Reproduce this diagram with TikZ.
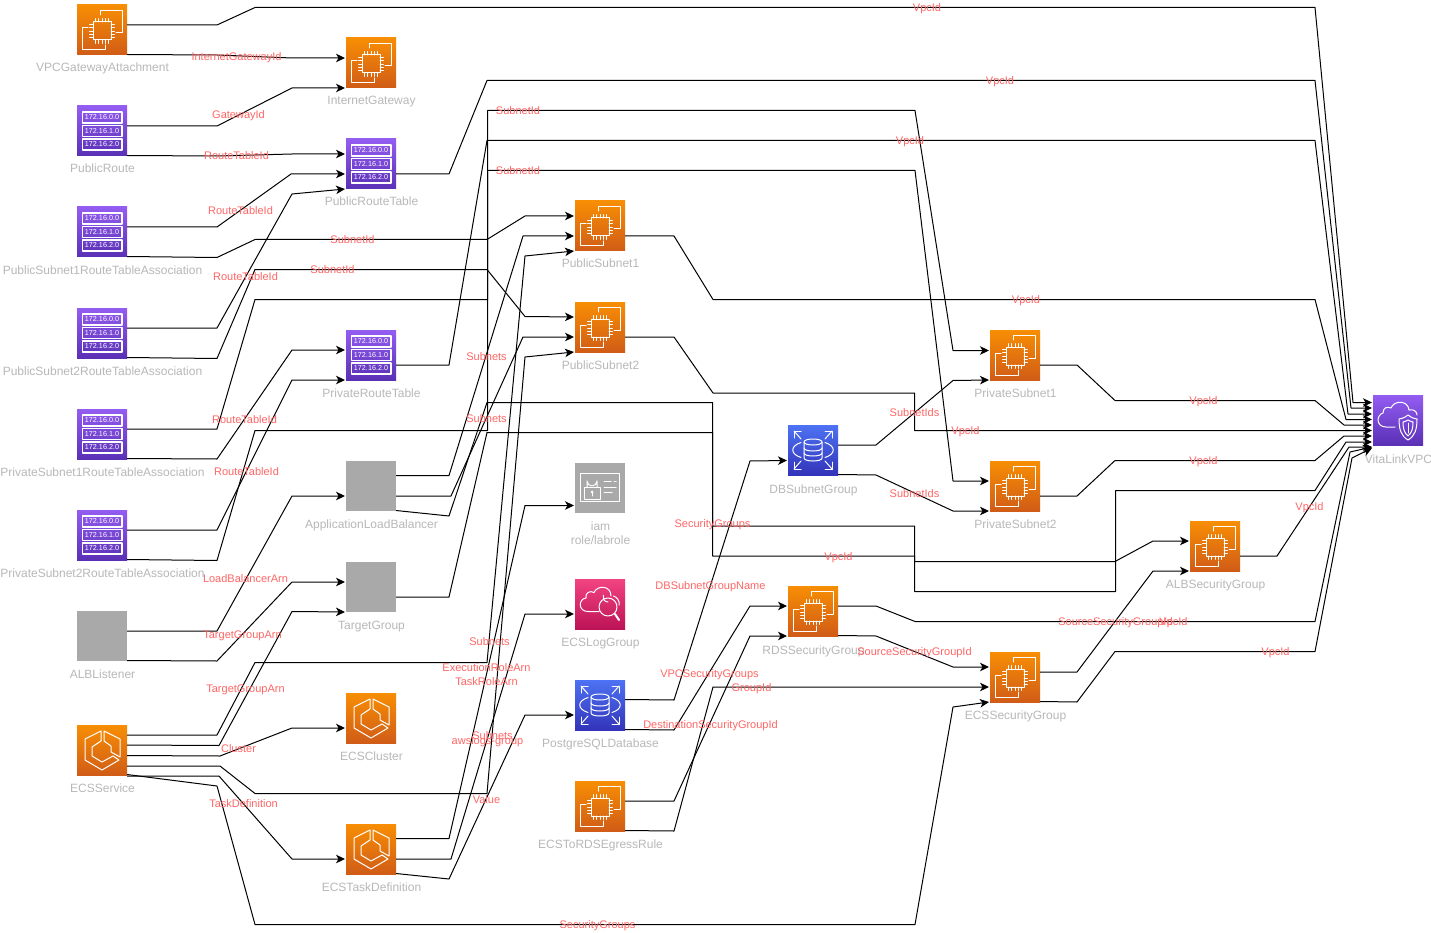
\documentclass[tikz,border=0pt]{standalone}
\usepackage{fontspec}
\setmainfont{Liberation Sans}
\usetikzlibrary{calc,arrows.meta}
\definecolor{lblgray}{HTML}{B8B8B8}
\definecolor{lblred}{HTML}{FF6666}
\definecolor{boxgray}{HTML}{A9A9A9}
\definecolor{F78}{HTML}{F78E04}\definecolor{D5C}{HTML}{D05C17}
\definecolor{P1}{HTML}{945DF2}\definecolor{P2}{HTML}{5A30B5}
\definecolor{B1}{HTML}{4D72F3}\definecolor{B2}{HTML}{3334B9}
\definecolor{K1}{HTML}{F34482}\definecolor{K2}{HTML}{BC1356}
\tikzset{
  box/.style={minimum size=50pt,inner sep=0pt,outer sep=0pt,anchor=north west,draw=none},
  orangebox/.style={box,top color=F78,bottom color=D5C},
  purplebox/.style={box,top color=P1,bottom color=P2},
  bluebox/.style={box,top color=B1,bottom color=B2},
  pinkbox/.style={box,top color=K1,bottom color=K2},
  graybox/.style={box,fill=boxgray},
  lbl/.style={text=lblgray,font=\fontsize{12pt}{14pt}\selectfont,inner sep=0pt,text height=9pt,text depth=3pt,yshift=-1pt,xshift=.5pt},
  lbltwo/.style={text=lblgray,font=\fontsize{12pt}{14pt}\selectfont,inner sep=0pt,align=center,xshift=.5pt},
  elab/.style={text=lblred,font=\fontsize{11pt}{13pt}\selectfont,inner sep=0pt,text height=8pt,text depth=2pt,yshift=-1.5pt},
  conline/.style={draw=black,line width=1pt,line join=round,-{Stealth[length=9pt,width=8.5pt,inset=2.5pt]}},
  ico/.style={draw=white,line width=1pt,line join=round,line cap=round,fill=none},
}
% icon glyphs, in a 50 x 50 frame
\newcommand{\gchip}{%
  \draw[ico] (23,10) -- (23,5.5) -- (45,5.5) -- (45,28) -- (39,28);
  \draw[ico] (11,23) -- (5.5,23) -- (5.5,45) -- (28,45) -- (28,40);
  \draw[ico] (16,17) rectangle (34,35);
  \foreach \t in {18.5,21.5,25,28.5,31.5}{
    \draw[ico,line width=.8pt] (\t,13.5) -- (\t,17);
    \draw[ico,line width=.8pt] (\t,35) -- (\t,38.5);
  }
  \foreach \t in {19.5,22.5,26,29.5,32.5}{
    \draw[ico,line width=.8pt] (12.5,\t) -- (16,\t);
    \draw[ico,line width=.8pt] (34,\t) -- (37.5,\t);
  }}
\newcommand{\gsubnet}[1]{%
  \foreach \yy/\tt in {6/0,19.5/1,33/2}{
    \draw[ico,line width=1.2pt] (5.5,\yy) rectangle (45,\yy+11);
    \node[text=white,font=\fontsize{7.2pt}{8pt}\selectfont,inner sep=0pt] (#1t\tt) at (25,\yy+5.5) {172.16.\tt.0};
  }}
\newcommand{\gecs}{%
  \draw[ico] (24,6) -- (24,16) -- (15,22) -- (15,31) -- (25,37) -- (36,31) -- (42,35) -- (25,45) -- (8,35) -- (8,14) -- cycle;
  \draw[ico] (27,6) -- (43,14) -- (43,32) -- (34,27) -- (34,21) -- (27,16) -- cycle;}
\newcommand{\grds}{%
  \draw[ico] (16,17) .. controls (16,13) and (34,13) .. (34,17) .. controls (34,21) and (16,21) .. (16,17);
  \draw[ico] (16,17) -- (16,33) .. controls (16,37) and (34,37) .. (34,33) -- (34,17);
  \draw[ico] (16,23) .. controls (16,27) and (34,27) .. (34,23);
  \draw[ico] (16,28) .. controls (16,32) and (34,32) .. (34,28);
  \draw[ico] (13,17.5) .. controls (2,21) and (2,29) .. (13,32.5);
  \draw[ico] (37,17.5) .. controls (48,21) and (48,29) .. (37,32.5);
  \draw[ico] (13,14) -- (6,6); \draw[ico] (6,13) -- (6,6) -- (13,6);
  \draw[ico] (37,14) -- (44,6); \draw[ico] (44,13) -- (44,6) -- (37,6);
  \draw[ico] (13,36) -- (6,44); \draw[ico] (6,37) -- (6,44) -- (13,44);
  \draw[ico] (37,36) -- (44,44); \draw[ico] (44,37) -- (44,44) -- (37,44);}
\newcommand{\glogs}{%
  \draw[ico] (24,32.5) -- (13,32.5) .. controls (3,32.5) and (3,20) .. (11,19) .. controls (10,14) and (15,11) .. (19,13.5) .. controls (22,6) and (36,6) .. (36,17);
  \draw[ico] (38.5,17) .. controls (42,18) and (45,22) .. (44,26);
  \draw[ico] (33,28) circle [radius=9];
  \draw[ico] (33,23) arc [start angle=90,end angle=200,radius=5];
  \draw[ico,line width=2pt] (40,35) -- (44,41);}
\newcommand{\gvpc}{%
  \draw[ico] (22,32) -- (13,32) .. controls (3,32) and (3,20) .. (10,18) .. controls (10,13) and (14,11) .. (18,13) .. controls (21,5) and (35,5) .. (36,15);
  \draw[ico] (36,15) .. controls (40,14) and (44,16) .. (44,20);
  \draw[ico] (35,20) .. controls (31,23) and (28,24) .. (26,24) .. controls (26,34) and (28,41) .. (35,45) .. controls (42,41) and (44,34) .. (44,24) .. controls (42,24) and (39,23) .. (35,20) -- cycle;
  \draw[ico] (35,25) .. controls (33,26) and (31,27) .. (30,27) .. controls (30,33) and (31,38) .. (35,41) .. controls (39,38) and (40,33) .. (40,27) .. controls (39,27) and (37,26) .. (35,25) -- cycle;
  \draw[ico] (35,28) -- (35,38);}
\newcommand{\giam}{%
  \draw[ico] (5.5,10.5) rectangle (44.5,38);
  \draw[ico] (9,24) rectangle (25,36);
  \draw[ico] (12,24) -- (12,18) arc [start angle=180,end angle=0,radius=5] -- (22,24);
  \fill[white] (17,29) circle [radius=1.5];
  \draw[ico] (17,30) -- (17,33);
  \draw[ico] (29,18.5) -- (36,18.5); \draw[ico] (39,18.5) -- (41,18.5);
  \draw[ico] (29,24) -- (41,24); \draw[ico] (29,29) -- (37,29);}
\newcommand{\icon}[5]{%
  \node[#4] (#1) at (#2,#3) {};
  \begin{scope}[shift={(#2,#3)}]#5\end{scope}}
\newcommand{\conn}[5]{%
  \draw[conline] ($(#1.north east)+(0,#2)$) #3 -- ($(#4.north west)+(-1,#5)$);}
\begin{document}
\begin{tikzpicture}[x=1pt,y=-1pt]
\useasboundingbox (0,0) rectangle (1431,933);
\fill[white] (0,0) rectangle (1431,933);
% ---- icons
\icon{vga}{77}{5}{orangebox}{\gchip}
\icon{proute}{77}{106}{purplebox}{\gsubnet{proute}}
\icon{ps1a}{77}{207}{purplebox}{\gsubnet{ps1a}}
\icon{ps2a}{77}{308}{purplebox}{\gsubnet{ps2a}}
\icon{pv1a}{77}{409}{purplebox}{\gsubnet{pv1a}}
\icon{pv2a}{77}{510}{purplebox}{\gsubnet{pv2a}}
\icon{albl}{77}{611}{graybox}{}
\icon{svc}{77}{725}{orangebox}{\gecs}
\icon{igw}{346}{38}{orangebox}{\gchip}
\icon{pubrt}{346}{139}{purplebox}{\gsubnet{pubrt}}
\icon{privrt}{346}{330}{purplebox}{\gsubnet{privrt}}
\icon{alb}{346}{461}{graybox}{}
\icon{tg}{346}{562}{graybox}{}
\icon{cluster}{346}{693}{orangebox}{\gecs}
\icon{taskdef}{346}{824}{orangebox}{\gecs}
\icon{pubs1}{575}{201}{orangebox}{\gchip}
\icon{pubs2}{575}{302}{orangebox}{\gchip}
\icon{iam}{575}{463}{graybox}{\giam}
\icon{logs}{575}{579}{pinkbox}{\glogs}
\icon{pg}{575}{680}{bluebox}{\grds}
\icon{egress}{575}{781}{orangebox}{\gchip}
\icon{dbsub}{788}{425}{bluebox}{\grds}
\icon{rdssg}{788}{586}{orangebox}{\gchip}
\icon{privs1}{990}{330}{orangebox}{\gchip}
\icon{privs2}{990}{461}{orangebox}{\gchip}
\icon{ecssg}{990}{652}{orangebox}{\gchip}
\icon{albsg}{1190}{521}{orangebox}{\gchip}
\icon{vpc}{1373}{395}{purplebox}{\gvpc}
% ---- icon captions
\node[lbl] (c1) at (102,68) {VPCGatewayAttachment};
\node[lbl] (c2) at (102,169) {PublicRoute};
\node[lbl] (c3) at (102,270) {PublicSubnet1RouteTableAssociation};
\node[lbl] (c4) at (102,371) {PublicSubnet2RouteTableAssociation};
\node[lbl] (c5) at (102,472) {PrivateSubnet1RouteTableAssociation};
\node[lbl] (c6) at (102,573) {PrivateSubnet2RouteTableAssociation};
\node[lbl] (c7) at (102,674) {ALBListener};
\node[lbl] (c8) at (102,788) {ECSService};
\node[lbl] (c9) at (371,101) {InternetGateway};
\node[lbl] (c10) at (371,202) {PublicRouteTable};
\node[lbl] (c11) at (371,393) {PrivateRouteTable};
\node[lbl] (c12) at (371,524) {ApplicationLoadBalancer};
\node[lbl] (c13) at (371,625) {TargetGroup};
\node[lbl] (c14) at (371,756) {ECSCluster};
\node[lbl] (c15) at (371,887) {ECSTaskDefinition};
\node[lbl] (c16) at (600,264) {PublicSubnet1};
\node[lbl] (c17) at (600,365) {PublicSubnet2};
\node[lbltwo] (c18) at (600,533) {iam\\role/labrole};
\node[lbl] (c19) at (600,642) {ECSLogGroup};
\node[lbl] (c20) at (600,743) {PostgreSQLDatabase};
\node[lbl] (c21) at (600,844) {ECSToRDSEgressRule};
\node[lbl] (c22) at (813,489) {DBSubnetGroup};
\node[lbl] (c23) at (813,650) {RDSSecurityGroup};
\node[lbl] (c24) at (1015,393) {PrivateSubnet1};
\node[lbl] (c25) at (1015,524) {PrivateSubnet2};
\node[lbl] (c26) at (1015,715) {ECSSecurityGroup};
\node[lbl] (c27) at (1215,584) {ALBSecurityGroup};
\node[lbl] (c28) at (1398,459) {VitaLinkVPC};
% ---- connectors
\conn{vga}{20}{-- (217,25) -- (255,7.5) -- (1315,7.5) -- (1353,402.5)}{vpc}{7.5}
\conn{vga}{49.5}{-- (217,55) -- (292,58)}{igw}{20}
\conn{proute}{20}{-- (217,126) -- (292,88)}{igw}{50}
\conn{proute}{49.5}{-- (217,156) -- (292,154)}{pubrt}{15}
\conn{ps1a}{20}{-- (217,227) -- (291,174)}{pubrt}{35}
\conn{ps1a}{49.5}{-- (217,257.5) -- (255,239.5) -- (487,239.5) -- (525,216)}{pubs1}{15}
\conn{ps2a}{20}{-- (217,328) -- (292,194)}{pubrt}{50}
\conn{ps2a}{49.5}{-- (217,358.5) -- (255,269.5) -- (487,269.5) -- (525,316.5)}{pubs2}{15}
\conn{pv1a}{20}{-- (217,429) -- (255,299.5) -- (487.5,299.5) -- (487.5,110.5) -- (915,110.5) -- (953,350.5)}{privs1}{20.5}
\conn{pv1a}{49.5}{-- (217,459) -- (292,350)}{privrt}{20}
\conn{pv2a}{20}{-- (217,530) -- (292,380)}{privrt}{50}
\conn{pv2a}{49.5}{-- (217,560.5) -- (255,430.5) -- (487.5,430.5) -- (487.5,170.5) -- (915,170.5) -- (953,481)}{privs2}{20}
\conn{albl}{20}{-- (217,631) -- (292,496)}{alb}{35}
\conn{albl}{49.5}{-- (217,661) -- (292,582)}{tg}{20}
\conn{svc}{10}{-- (217,735) -- (255,662.5) -- (487,662.5) -- (525,256)}{pubs1}{50}
\conn{svc}{20}{-- (219,745.5) -- (292,611.5)}{tg}{50}
\conn{svc}{30.5}{-- (220,756) -- (292,728)}{cluster}{35}
\conn{svc}{41}{-- (220,766) -- (255,793.5) -- (487,793.5) -- (525,357)}{pubs2}{50}
\conn{svc}{51}{-- (219,776) -- (292,859)}{taskdef}{35}
\conn{svc}{49.5}{-- (217,786) -- (255,924.5) -- (915,924.5) -- (953,707)}{ecssg}{50}
\conn{pubrt}{35}{-- (449,174) -- (487,80.5) -- (1315,80.5) -- (1351,408)}{vpc}{13}
\conn{privrt}{35}{-- (449,365) -- (487,140.5) -- (1315,140.5) -- (1348,414)}{vpc}{19}
\conn{alb}{14.5}{-- (449,475.5) -- (523,236)}{pubs1}{35}
\conn{alb}{35}{-- (451,496) -- (523,337)}{pubs2}{35}
\conn{alb}{49.5}{-- (449,516) -- (487,402.5) -- (712.5,402.5) -- (712.5,526) -- (914.5,526) -- (914.5,561.5) -- (1115,561.5) -- (1153,541)}{albsg}{20}
\conn{tg}{35}{-- (449,597) -- (487,432.5) -- (712.5,432.5) -- (712.5,556) -- (914.5,556) -- (914.5,591.5) -- (1115.5,591.5) -- (1115.5,490.5) -- (1315,490.5) -- (1346,442)}{vpc}{47}
\conn{taskdef}{14.5}{-- (449,838.5) -- (525,505.5)}{iam}{42.5}
\conn{taskdef}{35}{-- (451,859) -- (525,614)}{logs}{35}
\conn{taskdef}{49.5}{-- (449,879) -- (525,715)}{pg}{35}
\conn{pubs1}{35}{-- (674,236) -- (713,299.5) -- (1315,299.5) -- (1346,419.5)}{vpc}{24.5}
\conn{pubs2}{35}{-- (674,337) -- (713,393) -- (914.5,393) -- (914.5,430.5) -- (1315,430.5) -- (1344,430.5)}{vpc}{35.5}
\conn{pg}{19.5}{-- (674,700) -- (750,461)}{dbsub}{35.5}
\conn{pg}{49.5}{-- (674,730) -- (750,606)}{rdssg}{20}
\conn{egress}{20}{-- (674,801) -- (750,636)}{rdssg}{50}
\conn{egress}{49.5}{-- (674,831) -- (713,687) -- (950,687)}{ecssg}{35}
\conn{dbsub}{20}{-- (876,445) -- (953,380.5)}{privs1}{50}
\conn{dbsub}{49.5}{-- (876,475) -- (953,511)}{privs2}{50}
\conn{rdssg}{20}{-- (876,606) -- (915,621.5) -- (1315,621.5) -- (1350,452)}{vpc}{52}
\conn{rdssg}{49.5}{-- (876,636) -- (953,667)}{ecssg}{15}
\conn{privs1}{35}{-- (1077,365) -- (1115,400.5) -- (1315,400.5) -- (1344,425)}{vpc}{30}
\conn{privs2}{35}{-- (1077,496) -- (1115,460.5) -- (1315,460.5) -- (1344,436)}{vpc}{41}
\conn{ecssg}{20}{-- (1077,672) -- (1153,571)}{albsg}{50}
\conn{ecssg}{49.5}{-- (1077,702) -- (1115,651.5) -- (1315,651.5) -- (1352,458)}{vpc}{53}
\conn{albsg}{35}{-- (1277,556) -- (1349,447)}{vpc}{52}
% ---- connector labels
\node[elab] (e1) at (927,7) {VpcId};
\node[elab] (e2) at (236.5,56) {InternetGatewayId};
\node[elab] (e3) at (238.5,114) {GatewayId};
\node[elab] (e4) at (236.5,155) {RouteTableId};
\node[elab] (e5) at (240.5,210) {RouteTableId};
\node[elab] (e6) at (245.5,276) {RouteTableId};
\node[elab] (e7) at (1000,80) {VpcId};
\node[elab] (e8) at (518,110) {SubnetId};
\node[elab] (e9) at (910,140) {VpcId};
\node[elab] (e10) at (518,170) {SubnetId};
\node[elab] (e11) at (352.5,239) {SubnetId};
\node[elab] (e12) at (332.5,269) {SubnetId};
\node[elab] (e13) at (1026,299) {VpcId};
\node[elab] (e14) at (486.5,356) {Subnets};
\node[elab] (e15) at (486.5,418) {Subnets};
\node[elab] (e16) at (244.5,419) {RouteTableId};
\node[elab] (e17) at (246.5,471) {RouteTableId};
\node[elab] (e18) at (245.5,578) {LoadBalancerArn};
\node[elab] (e19) at (242.5,634) {TargetGroupArn};
\node[elab] (e20) at (245.5,688) {TargetGroupArn};
\node[elab] (e21) at (238.5,748) {Cluster};
\node[elab] (e22) at (243.5,803) {TaskDefinition};
\node[elab] (e23) at (489.5,641) {Subnets};
\node[elab] (e24) at (486.5,667) {ExecutionRoleArn};
\node[elab] (e25) at (486.5,681) {TaskRoleArn};
\node[elab] (e26) at (492.5,735) {Subnets};
\node[elab] (e27) at (487.5,739.5) {awslogs-group};
\node[elab] (e28) at (486.5,799) {Value};
\node[elab] (e29) at (597.5,924) {SecurityGroups};
\node[elab] (e30) at (712.5,523) {SecurityGroups};
\node[elab] (e31) at (710.5,585) {DBSubnetGroupName};
\node[elab] (e32) at (709.5,673) {VPCSecurityGroups};
\node[elab] (e33) at (751.5,687) {GroupId};
\node[elab] (e34) at (710.5,724) {DestinationSecurityGroupId};
\node[elab] (e35) at (838.5,556) {VpcId};
\node[elab] (e36) at (914.5,412) {SubnetIds};
\node[elab] (e37) at (914.5,493) {SubnetIds};
\node[elab] (e38) at (965.5,430) {VpcId};
\node[elab] (e39) at (914.5,651) {SourceSecurityGroupId};
\node[elab] (e40) at (1203.5,400) {VpcId};
\node[elab] (e41) at (1203.5,460) {VpcId};
\node[elab] (e42) at (1309.5,506) {VpcId};
\node[elab] (e43) at (1115.5,621) {SourceSecurityGroupId};
\node[elab] (e44) at (1173.5,621) {VpcId};
\node[elab] (e45) at (1275.5,651) {VpcId};
\end{tikzpicture}
\end{document}
